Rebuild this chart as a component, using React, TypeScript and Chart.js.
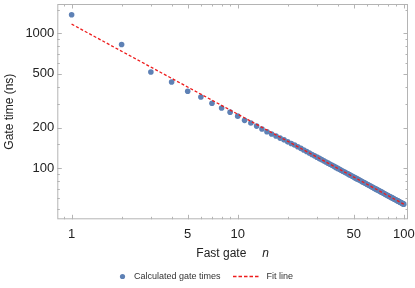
import React, { useEffect, useRef } from "react";
import { Chart, registerables } from "chart.js";

Chart.register(...registerables);

// Fast gate index n
const gateN = [
  1, 2, 3, 4, 5, 6, 7, 8, 9, 10, 11, 12, 13, 14, 15, 16, 17, 18, 19, 20,
  21, 22, 23, 24, 25, 26, 27, 28, 29, 30, 31, 32, 33, 34, 35, 36, 37, 38, 39, 40,
  41, 42, 43, 44, 45, 46, 47, 48, 49, 50, 51, 52, 53, 54, 55, 56, 57, 58, 59, 60,
  61, 62, 63, 64, 65, 66, 67, 68, 69, 70, 71, 72, 73, 74, 75, 76, 77, 78, 79, 80,
  81, 82, 83, 84, 85, 86, 87, 88, 89, 90, 91, 92, 93, 94, 95, 96, 97, 98, 99, 100,
];

// Calculated gate times (ns)
const gateTimes = [
  1373, 826, 516, 435, 372, 337, 303, 279, 260, 243, 226, 216, 205, 195, 186, 179, 173, 167, 162, 156.6,
  152.3, 148.4, 144.1, 140.1, 136.3, 132.7, 129.4, 126.3, 123.4, 120.6, 118.0, 115.5, 113.2, 111.0, 108.8, 106.8, 104.9, 103.0, 101.2, 99.5,
  97.9, 96.4, 94.8, 93.4, 92.0, 90.7, 89.4, 88.1, 86.9, 85.8, 84.6, 83.5, 82.5, 81.5, 80.5, 79.5, 78.6, 77.7, 76.8, 75.9,
  75.1, 74.3, 73.5, 72.7, 72.0, 71.2, 70.5, 69.8, 69.2, 68.5, 67.8, 67.2, 66.6, 66.0, 65.4, 64.8, 64.3, 63.7, 63.2, 62.7,
  62.1, 61.6, 61.1, 60.6, 60.2, 59.7, 59.2, 58.8, 58.3, 57.9, 57.5, 57.1, 56.7, 56.2, 55.8, 55.5, 55.1, 54.7, 54.3, 54.0,
];

// Fit line endpoints (straight on log-log axes)
const fitN = [1, 100];
const fitTimes = [1170, 54.0];

// Ticks
const xMajorTicks = [1, 5, 10, 50, 100];
const xMinorTicks = [0.9, 2, 3, 4, 6, 7, 8, 9, 20, 30, 40, 60, 70, 80, 90];
const yMajorTicks = [100, 200, 500, 1000];
const yMinorTicks = [50, 60, 70, 80, 90, 150, 300, 400, 600, 700, 800, 900, 1500];

const FONT = "'Liberation Sans', Arial, sans-serif";
const POINT_COLOR = "#5E81B5";
const FIT_COLOR = "rgb(238,28,28)";
const FRAME_COLOR = "#b4b4b4";
const TEXT_COLOR = "#222222";

const framePlugin = {
  id: "mmaFrame",
  beforeDatasetsDraw(chart: any) {
    const { ctx, chartArea } = chart;
    const xs = chart.scales.x;
    const ys = chart.scales.y;
    const { left, right, top, bottom } = chartArea;
    ctx.save();
    ctx.strokeStyle = FRAME_COLOR;
    ctx.lineWidth = 1;
    ctx.strokeRect(left + 0.5, top + 0.5, right - left - 1, bottom - top - 1);
    const drawX = (vals: number[], len: number) => {
      vals.forEach((v) => {
        const px = Math.round(xs.getPixelForValue(v)) + 0.5;
        ctx.beginPath();
        ctx.moveTo(px, bottom);
        ctx.lineTo(px, bottom - len);
        ctx.moveTo(px, top);
        ctx.lineTo(px, top + len);
        ctx.stroke();
      });
    };
    const drawY = (vals: number[], len: number) => {
      vals.forEach((v) => {
        const py = Math.round(ys.getPixelForValue(v)) + 0.5;
        ctx.beginPath();
        ctx.moveTo(left, py);
        ctx.lineTo(left + len, py);
        ctx.moveTo(right, py);
        ctx.lineTo(right - len, py);
        ctx.stroke();
      });
    };
    drawX(xMajorTicks, 4.5);
    drawX(xMinorTicks, 2.5);
    drawY(yMajorTicks, 4.5);
    drawY(yMinorTicks, 2.5);
    ctx.restore();
  },
  afterDraw(chart: any) {
    const { ctx, chartArea } = chart;
    const { left, right, top, bottom } = chartArea;
    ctx.save();
    ctx.fillStyle = TEXT_COLOR;
    // X title
    ctx.font = `12px ${FONT}`;
    ctx.textBaseline = "middle";
    ctx.textAlign = "left";
    const t1 = "Fast gate";
    const w1 = ctx.measureText(t1).width;
    ctx.font = `italic 12px ${FONT}`;
    const wn = ctx.measureText("n").width;
    const gap = 16;
    const cx = (left + right) / 2;
    const sx = cx - (w1 + gap + wn) / 2;
    ctx.font = `12px ${FONT}`;
    ctx.fillText(t1, sx, 254);
    ctx.font = `italic 12px ${FONT}`;
    ctx.fillText("n", sx + w1 + gap, 254);
    // Y title
    ctx.save();
    ctx.translate(10, (top + bottom) / 2);
    ctx.rotate(-Math.PI / 2);
    ctx.font = `12px ${FONT}`;
    ctx.textAlign = "center";
    ctx.fillText("Gate time (ns)", 0, 0);
    ctx.restore();
    // Legend
    const ly = 276.5;
    ctx.fillStyle = POINT_COLOR;
    ctx.beginPath();
    ctx.arc(122.5, ly, 2.6, 0, Math.PI * 2);
    ctx.fill();
    ctx.fillStyle = "#333333";
    ctx.font = `9px ${FONT}`;
    ctx.textAlign = "left";
    ctx.fillText("Calculated gate times", 134, ly);
    ctx.strokeStyle = FIT_COLOR;
    ctx.lineWidth = 1.3;
    ctx.setLineDash([3.5, 2]);
    ctx.beginPath();
    ctx.moveTo(233, ly);
    ctx.lineTo(260, ly);
    ctx.stroke();
    ctx.setLineDash([]);
    ctx.fillText("Fit line", 266.5, ly);
    ctx.restore();
  },
};

export default function App() {
  const ref = useRef<HTMLCanvasElement | null>(null);
  useEffect(() => {
    document.body.style.margin = "0";
    const canvas = ref.current;
    if (!canvas) return;
    const chart = new Chart(canvas, {
      type: "scatter",
      data: {
        datasets: [
          {
            type: "line",
            label: "Fit line",
            data: fitN.map((n, i) => ({ x: n, y: fitTimes[i] })),
            borderColor: FIT_COLOR,
            borderWidth: 1.3,
            borderDash: [3, 2],
            pointRadius: 0,
            fill: false,
            order: 1,
          } as any,
          {
            type: "scatter",
            label: "Calculated gate times",
            data: gateN.map((n, i) => ({ x: n, y: gateTimes[i] })),
            backgroundColor: POINT_COLOR,
            borderWidth: 0,
            pointRadius: 2.8,
            order: 2,
          },
        ],
      },
      options: {
        animation: false,
        responsive: false,
        events: [],
        layout: { padding: { left: 0, right: 7, top: 2.5, bottom: 0 } },
        plugins: { legend: { display: false }, tooltip: { enabled: false } },
        scales: {
          x: {
            type: "logarithmic",
            min: 0.82,
            max: 106,
            afterBuildTicks: (s: any) => {
              s.ticks = xMajorTicks.map((v) => ({ value: v }));
            },
            afterFit: (s: any) => {
              s.height = 68.7;
              s.paddingLeft = 0;
              s.paddingRight = 0;
            },
            grid: { display: false, drawTicks: false },
            border: { display: false },
            ticks: {
              autoSkip: false,
              maxRotation: 0,
              padding: 7,
              color: TEXT_COLOR,
              font: { family: FONT, size: 13 },
              callback: (v: any) => String(v),
            },
          },
          y: {
            type: "logarithmic",
            min: 41.7,
            max: 1650,
            afterBuildTicks: (s: any) => {
              s.ticks = yMajorTicks.map((v) => ({ value: v }));
            },
            afterFit: (s: any) => {
              s.width = 57.3;
              s.paddingTop = 0;
              s.paddingBottom = 0;
            },
            grid: { display: false, drawTicks: false },
            border: { display: false },
            ticks: {
              autoSkip: false,
              padding: 3,
              color: TEXT_COLOR,
              font: { family: FONT, size: 13 },
              callback: (v: any) => String(v),
            },
          },
        },
      },
      plugins: [framePlugin],
    });
    return () => chart.destroy();
  }, []);
  return (
    <div style={{ width: 415, height: 288 }}>
      <canvas ref={ref} width={415} height={288} />
    </div>
  );
}
